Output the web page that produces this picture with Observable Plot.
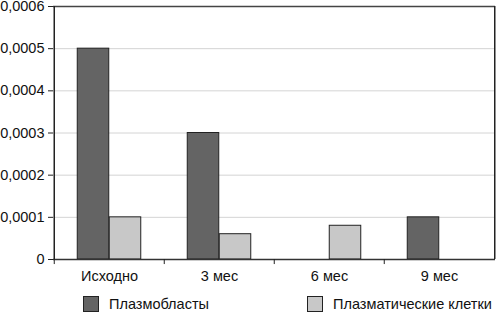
<!DOCTYPE html>
<html><head><meta charset="utf-8">
<script src="https://cdn.jsdelivr.net/npm/d3@7"></script>
<script src="https://cdn.jsdelivr.net/npm/@observablehq/plot@0.6"></script>
<style>
body{margin:0;background:#fff;font-family:"Liberation Sans",Arial,sans-serif;}
#wrap{position:relative;width:497px;height:313px;overflow:hidden;}
.leg{position:absolute;top:296px;display:flex;align-items:center;font-size:14.5px;color:#111;white-space:nowrap;}
.sw{width:14px;height:14px;border:1px solid #222;margin-right:10px;}
</style>
</head><body>
<div id="wrap"><div id="chart"></div></div>
<script>
const categories = ["Исходно", "3 мес", "6 мес", "9 мес"];
const seriesNames = ["Плазмобласты", "Плазматические клетки"];
const plasmoblasts = [0.0005, 0.0003, 0, 0.0001];
const plasmaCells = [0.0001, 0.00006, 0.00008, 0];
const yTicks = [0, 0.0001, 0.0002, 0.0003, 0.0004, 0.0005, 0.0006];
const colors = ["#646464", "#c8c8c8"];

const rows = [];
categories.forEach((c, i) => {
  rows.push({cat: c, series: seriesNames[0], value: plasmoblasts[i]});
  rows.push({cat: c, series: seriesNames[1], value: plasmaCells[i]});
});
const fmt = d => d === 0 ? "0" : d.toFixed(4).replace(".", ",");
const band = (497 - 53 - 2) / categories.length;
const bw = 32;
const yMin = yTicks[0], yMax = yTicks[yTicks.length - 1];

const chart = Plot.plot({
  width: 497,
  height: 288,
  marginLeft: 53,
  marginRight: 2,
  marginTop: 6,
  marginBottom: 29,
  style: {fontFamily: '"Liberation Sans",Arial,sans-serif', background: "#fff", color: "#111"},
  x: {domain: categories, padding: 0, label: null},
  y: {domain: [yMin, yMax], label: null},
  color: {domain: seriesNames, range: colors},
  marks: [
    Plot.gridY(yTicks.slice(1, -1), {stroke: "#d4d4d4", strokeOpacity: 1}),
    Plot.barY(rows.filter(d => d.series === seriesNames[0] && d.value > 0), {
      x: "cat", y: "value", fill: "series", stroke: "#222", strokeWidth: 1,
      insetLeft: band / 2 - bw, insetRight: band / 2
    }),
    Plot.barY(rows.filter(d => d.series === seriesNames[1] && d.value > 0), {
      x: "cat", y: "value", fill: "series", stroke: "#222", strokeWidth: 1,
      insetLeft: band / 2, insetRight: band / 2 - bw
    }),
    Plot.ruleY([yMin], {stroke: "#333", strokeWidth: 1.5}),
    Plot.ruleY([yMax], {stroke: "#444", strokeWidth: 1.5}),
    Plot.ruleX([categories[0]], {dx: -band / 2, stroke: "#222", strokeWidth: 1.5}),
    Plot.ruleX([categories[categories.length - 1]], {dx: band / 2, stroke: "#222", strokeWidth: 1.5}),
    Plot.ruleX(categories, {x: d => d, dx: -band / 2, y1: yMin, y2: -0.000012, stroke: "#222"}),
    Plot.axisY(yTicks, {tickSize: 5, tickPadding: 4, tickFormat: fmt, fontSize: 14.5, stroke: "#222", label: null}),
    Plot.axisX({tickSize: 0, tickPadding: 11, fontSize: 14.5, label: null})
  ]
});
document.getElementById("chart").appendChild(chart);

const wrap = document.getElementById("wrap");
const legX = [83, 307];
seriesNames.forEach((s, i) => {
  const item = document.createElement("div");
  item.className = "leg";
  item.style.left = legX[i] + "px";
  item.innerHTML = `<div class="sw" style="background:${colors[i]}"></div><span>${s}</span>`;
  wrap.appendChild(item);
});
</script>
</body></html>
